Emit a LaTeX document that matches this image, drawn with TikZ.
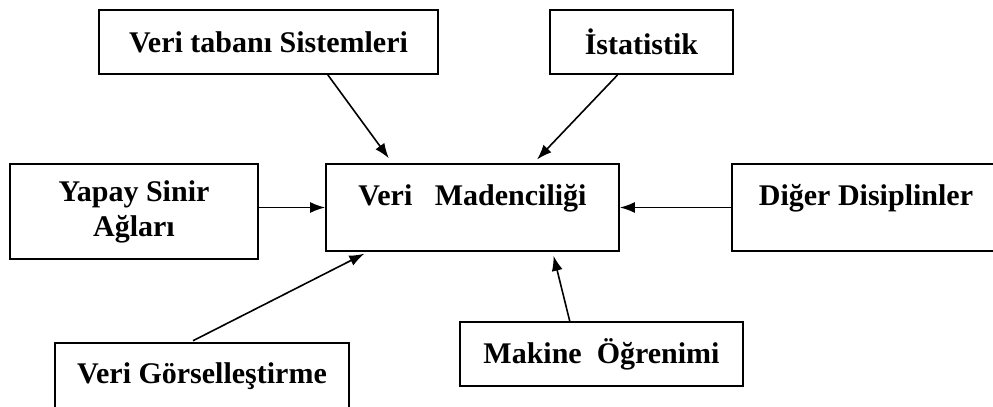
\documentclass[tikz,border=0pt]{standalone}
\usepackage{fontspec}
\setmainfont{Liberation Serif}
\usetikzlibrary{arrows.meta}

\begin{document}
\begin{tikzpicture}[x=0.5pt,y=-0.5pt,>={Latex[length=7.5pt,width=5.5pt]},
  every node/.style={font=\fontsize{15}{17.5}\selectfont\bfseries},
  box/.style={draw,line width=0.9pt,inner sep=0pt},
  link/.style={->,line width=0.8pt}]
\useasboundingbox (0,0) rectangle (993,407);
\node[box,minimum width=169.5pt,minimum height=32pt] (dbsys) at (268.5,42) {Veri tabanı Sistemleri\hspace{7.5pt}};
\node[box,minimum width=91.5pt,minimum height=32pt] (stats) at (641.5,42) {İstatistik};
\node[box,minimum width=124pt,minimum height=47.5pt,align=center] (ann) at (134,211.5) {Yapay Sinir\\Ağları};
\node[box,minimum width=146.5pt,minimum height=43.5pt,text height=10pt,text depth=12pt] (dm) at (472.5,207.5) {Veri\ \ \ Madenciliği};
\node[box,minimum width=134pt,minimum height=43.5pt,text height=10pt,text depth=12pt] (other) at (866,207.5) {Diğer Disiplinler};
\node[box,minimum width=147pt,minimum height=33pt] (vis) at (202,376) {Veri Görselleştirme};
\node[box,minimum width=141.5pt,minimum height=32pt] (ml) at (601.5,354) {Makine\ \ Öğrenimi};
\draw[link,shorten >=3pt] (dbsys.-29) -- (dm.151);
\draw[link,shorten >=2.5pt] (stats.-126) -- (dm.36);
\draw[link] (ann.east |- dm.west) -- (dm.west);
\draw[link] (other.west) -- (dm.east);
\draw[link,shorten >=2pt,shorten <=1.5pt] (vis.109) -- (dm.203);
\draw[link,shorten >=2pt] (ml.134.5) -- (dm.-29);
\end{tikzpicture}
\end{document}
